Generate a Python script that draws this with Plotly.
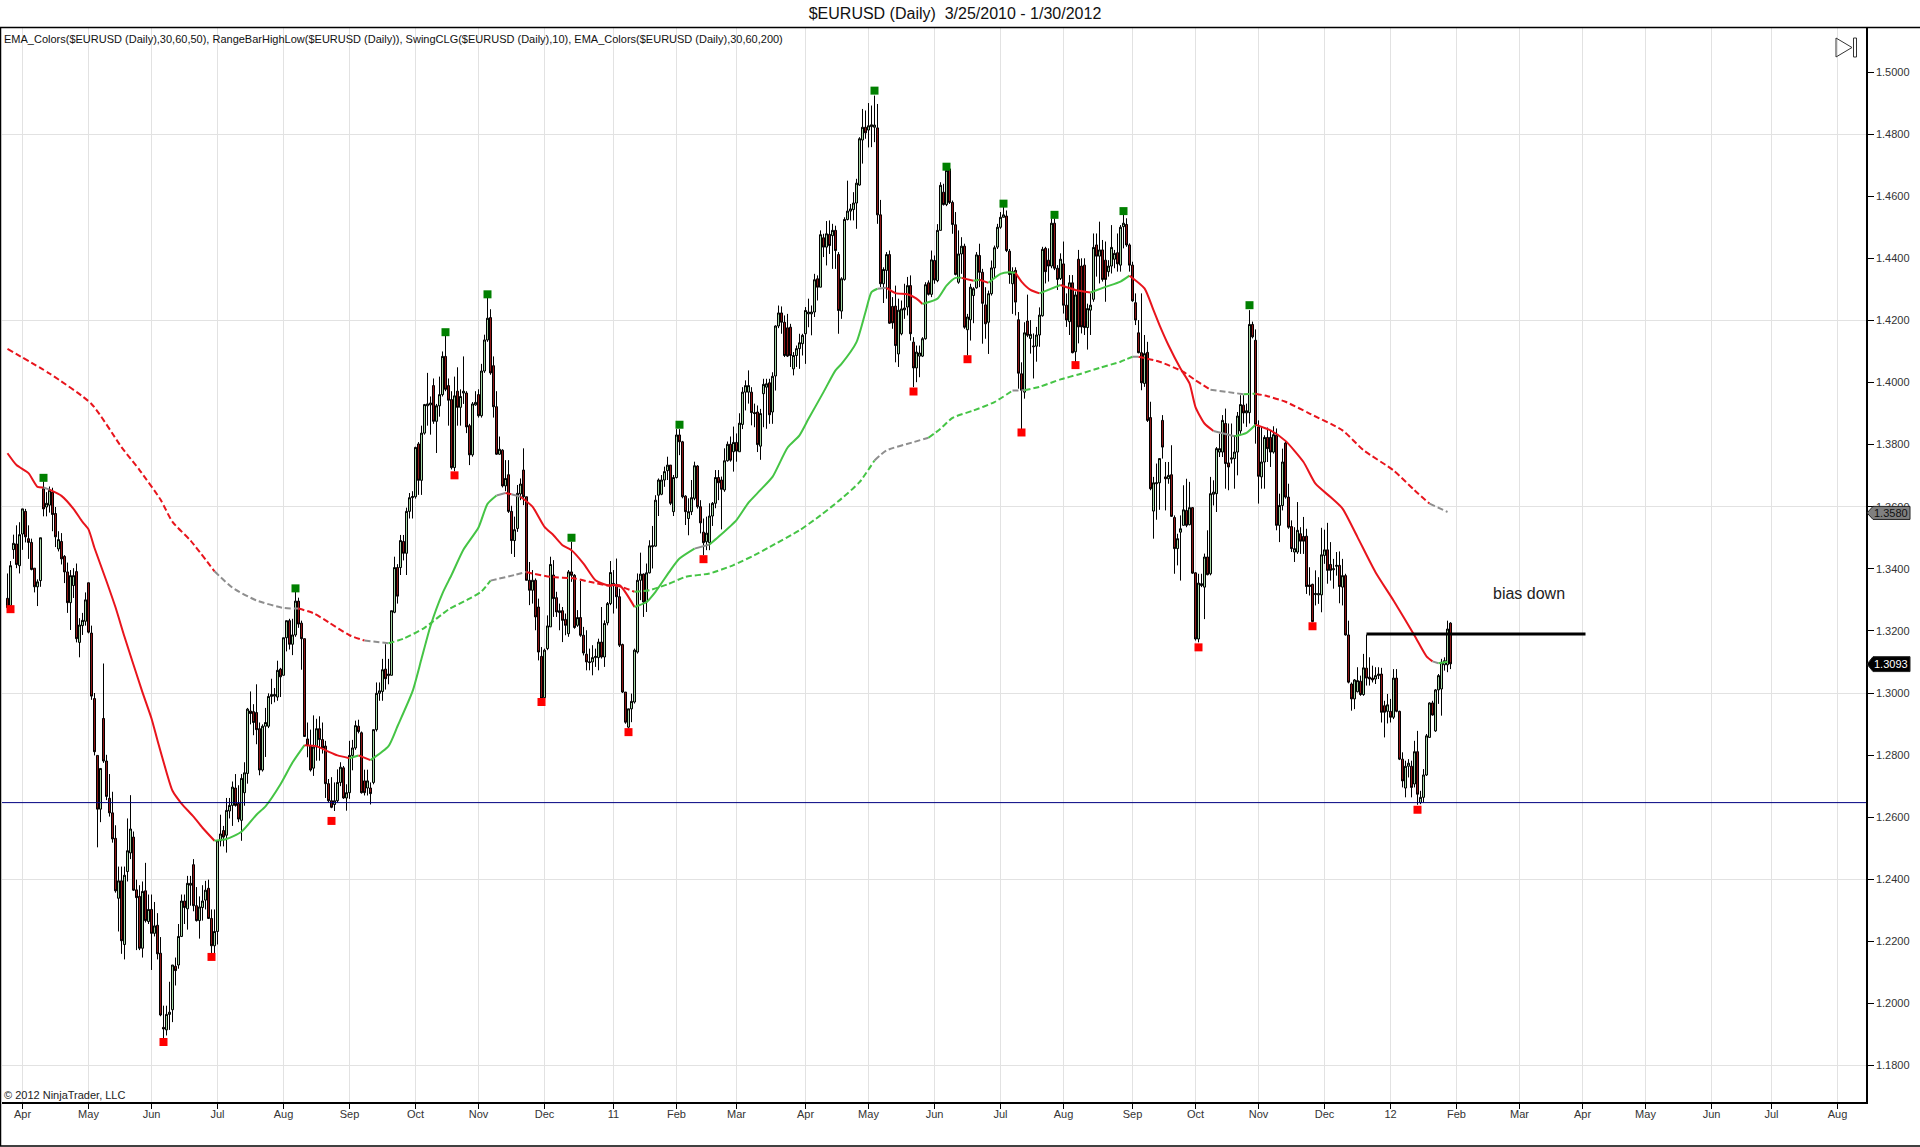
import plotly.graph_objects as go

# all prices in pips above 1.0000, so 3305 is 1.3305
opens = [
    3305,3282,3462,3480,3410,3512,3585,3497,3485,3402,
    3342,3362,3658,3599,3605,3647,3578,3464,3488,3440,
    3390,3291,3346,3391,3163,3217,3231,3355,3193,2982,
    2799,2626,2918,2781,2661,2614,2532,2339,2395,2190,
    2425,2485,2536,2366,2345,2178,2363,2264,2303,2226,
    2252,2162,1923,1915,1965,1980,2120,2124,2216,2330,
    2305,2381,2447,2315,2267,2309,2333,2371,2274,2186,
    2232,2524,2557,2542,2620,2638,2694,2644,2590,2679,
    2741,2942,2940,2937,2885,2752,2893,2893,2989,2990,
    2987,3077,3057,3178,3233,3157,3187,3296,3225,3175,
    2852,2829,2758,2826,2885,2850,2829,2708,2653,2641,
    2653,2712,2759,2662,2679,2799,2823,2893,2872,2717,
    2694,2694,2712,2882,2999,3005,3077,3056,3057,3260,
    3404,3404,3488,3450,3585,3629,3632,3802,3685,3837,
    3925,3928,3990,3875,3925,3961,4084,3990,3945,3726,
    3972,3920,3966,3966,3861,3767,3928,3961,3893,4037,
    4137,4209,4054,3922,3769,3782,3667,3703,3585,3491,
    3530,3641,3718,3632,3363,3331,3363,3277,3118,2985,
    3143,3213,3380,3307,3259,3265,3237,3191,3390,3379,
    3218,3243,3186,3125,3098,3100,3114,3114,3164,3116,
    3226,3288,3345,3350,3310,3156,3003,2890,2949,2971,
    3132,3363,3383,3293,3387,3471,3473,3637,3640,3686,
    3716,3734,3584,3694,3831,3809,3634,3562,3584,3627,
    3731,3600,3518,3487,3484,3570,3611,3694,3686,3654,
    3748,3801,3777,3807,3777,3865,3969,3969,3969,3903,
    3905,3795,3964,3985,3999,3905,4021,4182,4224,4194,
    4176,4178,4044,4087,4109,4125,4157,4221,4221,4227,
    4334,4307,4466,4436,4477,4473,4490,4412,4230,4332,
    4525,4552,4557,4578,4636,4781,4822,4813,4824,4822,
    4820,4540,4318,4361,4412,4245,4246,4092,4157,4234,
    4243,4312,4130,4047,4085,4085,4141,4321,4284,4393,
    4328,4490,4613,4573,4688,4580,4508,4323,4414,4439,
    4170,4202,4280,4305,4409,4355,4250,4194,4286,4369,
    4436,4500,4532,4536,4423,4318,4361,4202,4028,3969,
    4198,4142,4115,4117,4153,4215,4432,4394,4375,4513,
    4368,4335,4382,4249,4196,4321,4099,4397,4375,4378,
    4177,4233,4268,4443,4407,4427,4394,4357,4375,4397,
    4418,4378,4502,4509,4443,4378,4257,4160,4096,3997,
    4097,3887,3586,3674,3677,3878,3696,3690,3703,3565,
    3465,3518,3540,3588,3542,3597,3387,3174,3346,3341,
    3438,3384,3640,3642,3776,3776,3868,3741,3753,3755,
    3776,3844,3927,3902,3903,4187,4136,3857,3696,3744,
    3823,3823,3776,3830,3540,3604,3805,3631,3536,3454,
    3454,3513,3504,3505,3348,3350,3317,3316,3316,3443,
    3461,3414,3397,3408,3411,3341,3378,3187,3029,2981,
    3004,3038,2995,3080,3051,3048,3045,3056,3061,2959,
    2941,2941,2922,3048,2941,2787,2694,2764,2764,2707,
    2811,2647,2664,2736,2857,2968,2878,3010,3013,3091,3091,3225,
]
highs = [
    3385,3425,3510,3540,3550,3593,3593,3540,3497,3402,
    3366,3500,3682,3647,3665,3661,3599,3521,3515,3444,
    3420,3396,3402,3417,3241,3258,3324,3355,3217,3000,
    2799,2757,3095,2801,2739,2682,2574,2441,2441,2441,
    2596,2671,2554,2399,2381,2393,2453,2351,2351,2327,
    2291,2214,1993,1993,2070,2124,2148,2256,2351,2351,
    2411,2411,2465,2375,2345,2381,2395,2399,2303,2303,
    2524,2608,2572,2662,2662,2715,2739,2703,2739,2777,
    2952,3005,2964,3028,2905,2899,2952,2999,3046,3016,
    3104,3081,3178,3233,3239,3239,3327,3307,3233,3175,
    2905,2882,2928,2917,2925,2905,2846,2723,2729,2712,
    2754,2777,2765,2706,2846,2849,2911,2914,2876,2753,
    2753,2712,2882,3034,3034,3110,3157,3110,3265,3439,
    3415,3509,3509,3597,3644,3650,3793,3808,3861,3931,
    4031,3955,4013,3931,4019,4100,4154,4013,3972,4019,
    4049,3978,4084,3972,3867,3937,3972,3978,4060,4154,
    4277,4236,4084,3972,3826,3785,3750,3750,3603,3568,
    3670,3691,3788,3632,3422,3396,3369,3304,3148,3143,
    3250,3439,3428,3326,3288,3277,3256,3396,3487,3383,
    3267,3361,3213,3202,3143,3154,3143,3175,3277,3234,
    3293,3425,3396,3433,3336,3159,3003,2949,2998,3143,
    3385,3452,3385,3417,3492,3538,3637,3691,3702,3729,
    3761,3734,3702,3850,3850,3812,3637,3627,3686,3745,
    3734,3621,3562,3568,3611,3615,3718,3718,3697,3788,
    3810,3826,3858,3836,3901,3985,4007,4039,3985,3932,
    3926,3915,4012,4012,4012,4033,4184,4248,4245,4216,
    4221,4189,4098,4119,4157,4157,4243,4270,4248,4350,
    4345,4490,4479,4520,4522,4511,4505,4420,4339,4532,
    4650,4575,4613,4656,4790,4881,4876,4900,4892,4924,
    4897,4588,4371,4420,4425,4275,4312,4270,4264,4318,
    4340,4345,4146,4119,4119,4146,4323,4329,4425,4409,
    4510,4645,4640,4688,4688,4586,4549,4490,4468,4447,
    4221,4318,4307,4420,4447,4366,4307,4296,4393,4441,
    4511,4549,4570,4554,4430,4371,4371,4227,4065,4194,
    4283,4201,4158,4179,4242,4437,4437,4432,4529,4529,
    4378,4416,4454,4287,4346,4346,4293,4427,4400,4400,
    4254,4287,4480,4480,4518,4459,4454,4394,4507,4427,
    4480,4507,4552,4529,4448,4389,4287,4201,4287,4153,
    4131,3938,3696,3739,3755,3895,3744,3744,3798,3572,
    3513,3572,3669,3690,3680,3599,3389,3384,3384,3449,
    3524,3696,3685,3792,3835,3895,3916,3868,3868,3830,
    3905,3959,3959,3932,4233,4196,4171,3878,3857,3830,
    3855,3846,3859,3852,3642,3787,3814,3674,3556,3534,
    3615,3534,3567,3529,3405,3352,3395,3373,3532,3526,
    3548,3486,3432,3454,3456,3432,3384,3233,3034,3045,
    3083,3056,3126,3188,3115,3088,3083,3083,3081,2975,
    2997,2981,3077,3077,2943,2809,2782,2787,2782,2846,
    2878,2685,2755,2868,2970,2975,3013,3061,3110,3115,3233,3228,
]
lows = [
    3270,3275,3432,3402,3385,3461,3485,3432,3395,3324,
    3280,3342,3569,3569,3581,3521,3470,3456,3414,3354,
    3258,3203,3306,3163,3115,3187,3217,3192,2978,2799,
    2503,2584,2775,2655,2602,2518,2357,2232,2160,2142,
    2393,2465,2363,2172,2172,2148,2261,2256,2108,2216,
    2142,1959,1885,1897,1915,1940,2058,2112,2214,2256,
    2238,2315,2297,2264,2209,2267,2303,2272,2160,2160,
    2190,2506,2506,2486,2596,2572,2634,2584,2524,2637,
    2708,2899,2864,2835,2735,2747,2794,2887,2964,2970,
    2975,2987,3057,3134,3140,3122,3181,3210,3075,2860,
    2793,2747,2733,2782,2782,2805,2662,2647,2629,2620,
    2647,2700,2659,2621,2659,2751,2817,2870,2676,2670,
    2670,2641,2706,2876,2975,2975,3011,3028,3057,3257,
    3288,3380,3427,3380,3562,3562,3626,3638,3638,3832,
    3861,3832,3867,3773,3890,3955,3972,3861,3720,3714,
    3861,3861,3931,3837,3734,3761,3925,3887,3887,4031,
    4131,4025,3887,3767,3767,3662,3650,3580,3448,3438,
    3519,3621,3605,3363,3283,3288,3202,3105,2980,2982,
    3138,3213,3245,3245,3202,3164,3186,3181,3358,3207,
    3213,3181,3121,3073,3073,3057,3084,3073,3111,3084,
    3218,3283,3256,3272,3148,3000,2901,2885,2906,2966,
    3127,3299,3245,3261,3385,3401,3471,3570,3637,3664,
    3686,3605,3570,3691,3766,3627,3541,3508,3573,3621,
    3594,3514,3444,3460,3460,3538,3595,3621,3527,3648,
    3745,3745,3713,3745,3777,3850,3910,3932,3862,3856,
    3776,3751,3856,3851,3867,3867,3974,4175,4157,4082,
    4082,4050,4023,4050,4044,4087,4060,4178,4152,4211,
    4264,4307,4404,4377,4414,4366,4366,4157,4205,4328,
    4522,4522,4522,4495,4634,4705,4785,4757,4758,4774,
    4511,4307,4256,4270,4189,4173,4065,4050,4152,4205,
    4216,4135,3985,4001,4017,4082,4138,4280,4275,4318,
    4323,4490,4570,4568,4575,4479,4345,4318,4350,4173,
    4087,4135,4191,4302,4307,4125,4141,4092,4280,4339,
    4430,4495,4532,4420,4318,4221,4216,3980,3850,3948,
    4146,4093,4013,4067,4115,4212,4319,4325,4368,4362,
    4298,4330,4222,4179,4153,4094,4066,4126,4158,4153,
    4106,4153,4260,4341,4319,4325,4260,4341,4351,4368,
    4357,4357,4432,4437,4357,4260,4185,4094,3975,3986,
    3873,3653,3497,3558,3590,3755,3588,3674,3567,3384,
    3411,3362,3540,3534,3540,3384,3169,3163,3341,3238,
    3379,3379,3604,3583,3760,3760,3658,3653,3739,3658,
    3701,3835,3868,3857,3868,4142,3803,3610,3658,3658,
    3744,3728,3771,3524,3486,3588,3626,3529,3454,3422,
    3448,3448,3448,3319,3314,3228,3282,3287,3260,3416,
    3352,3362,3336,3378,3289,3282,3185,3031,2943,2948,
    3002,2991,2991,3024,3024,3034,3029,3045,2905,2857,
    2902,2905,2916,2938,2784,2696,2664,2728,2664,2696,
    2640,2642,2647,2733,2857,2927,2875,2965,2927,3072,3067,3077,
]
closes = [
    3275,3410,3482,3414,3510,3593,3503,3485,3398,3342,
    3358,3500,3593,3611,3653,3575,3503,3494,3432,3390,
    3291,3378,3378,3175,3219,3234,3300,3196,2990,2811,
    2626,2757,2781,2667,2614,2530,2363,2395,2202,2413,
    2492,2562,2365,2341,2178,2361,2267,2303,2226,2250,
    2160,1963,1918,1965,1972,2124,2106,2216,2330,2309,
    2387,2387,2315,2267,2311,2330,2365,2274,2186,2232,
    2524,2546,2536,2622,2638,2697,2638,2594,2725,2743,
    2948,2934,2905,2882,2752,2893,2905,2989,2995,2995,
    3073,3052,3178,3233,3157,3187,3296,3222,3175,2860,
    2831,2752,2826,2885,2850,2823,2708,2653,2632,2653,
    2712,2761,2662,2679,2799,2823,2895,2876,2679,2679,
    2717,2676,2882,2999,3007,3075,3046,3061,3265,3404,
    3312,3491,3450,3585,3629,3633,3791,3685,3837,3929,
    3931,3934,3875,3925,3961,4084,3978,3943,3726,3957,
    3920,3955,3972,3857,3767,3931,3936,3893,4037,4137,
    4207,4031,3922,3769,3785,3667,3691,3585,3491,3526,
    3643,3673,3632,3363,3331,3363,3245,3132,2982,3138,
    3216,3414,3304,3261,3265,3234,3218,3390,3379,3211,
    3243,3186,3129,3100,3100,3114,3118,3164,3116,3224,
    3288,3388,3353,3310,3154,3003,2906,2949,2973,3138,
    3363,3383,3293,3387,3474,3474,3621,3686,3686,3713,
    3734,3611,3694,3831,3809,3632,3584,3584,3629,3732,
    3600,3548,3484,3515,3570,3611,3694,3677,3656,3748,
    3801,3750,3807,3779,3869,3969,3990,3990,3903,3900,
    3800,3900,3994,3996,3896,4020,4182,4224,4194,4087,
    4085,4087,4087,4109,4128,4152,4232,4227,4227,4331,
    4307,4476,4436,4479,4441,4490,4425,4232,4334,4525,
    4552,4559,4578,4642,4785,4822,4804,4827,4830,4829,
    4540,4318,4364,4412,4191,4192,4119,4233,4237,4240,
    4312,4157,4047,4098,4095,4141,4315,4284,4395,4330,
    4490,4635,4573,4683,4580,4509,4348,4414,4439,4178,
    4211,4307,4302,4411,4355,4255,4189,4286,4369,4434,
    4500,4532,4540,4425,4348,4357,4259,4030,3975,4160,
    4152,4155,4117,4153,4217,4429,4357,4375,4513,4368,
    4332,4397,4249,4201,4321,4096,4282,4179,4179,4177,
    4238,4249,4435,4407,4427,4332,4332,4375,4435,4416,
    4382,4500,4513,4443,4378,4263,4201,4096,3999,4093,
    3878,3658,3677,3677,3755,3792,3690,3701,3569,3465,
    3497,3529,3590,3540,3597,3386,3174,3354,3352,3438,
    3381,3642,3647,3787,3787,3878,3739,3728,3757,3776,
    3892,3929,3902,3909,4187,4147,3865,3698,3744,3823,
    3787,3776,3832,3540,3604,3744,3631,3534,3465,3465,
    3524,3489,3489,3343,3343,3230,3320,3320,3445,3461,
    3395,3395,3400,3411,3343,3378,3187,3035,2981,3042,
    3040,2995,3081,3048,3045,3042,3056,3061,2938,2938,
    2962,2922,3048,2941,2787,2717,2764,2774,2696,2811,
    2674,2664,2736,2862,2968,2929,3010,3056,3099,3104,3206,3094,
]

ema50_bars = [1,4,8,11,13,15,19,23,26,28,30,34,37,40,43,46,49,51,54,56,59,63,66,70,74,79,84,87,92,96,
              100,104,108,111,115,118,122,128,131,136,139,142,146,149,153,158,161,164,167,169,172,176,180,183,186,189,193,197,201,205,
              210,214,217,222,225,230,235,238,244,248,252,256,261,265,268,273,277,279,284,287,289,291,294,297,301,304,306,311,314,317,
              319,323,325,328,332,335,337,339,342,345,352,357,362,367,372,375,380,383,385,388,392,395,397,400,403,410,414,417,422,427,
              433,437,442,446,451,457,463,470,474,476,478,481]
ema50_vals = [3772,3734,3708,3664,3662,3655,3635,3593,3551,3527,3467,3360,3276,3181,3091,3002,2918,2847,2745,2685,2644,2602,2566,2524,2530,2553,2608,2635,2706,2776,
              2832,2829,2811,2799,2790,2799,2784,2829,2893,3005,3110,3216,3321,3380,3462,3533,3609,3636,3644,3640,3632,3600,3535,3508,3476,3460,3417,3363,3347,3347,
              3277,3293,3326,3396,3433,3465,3478,3503,3557,3613,3654,3696,3790,3830,3883,3969,4039,4060,4130,4227,4291,4302,4305,4288,4284,4270,4253,4270,4312,4337,
              4337,4328,4331,4321,4350,4355,4353,4325,4298,4287,4314,4298,4290,4308,4325,4344,4303,4233,4185,4120,4045,3997,3921,3868,3844,3827,3838,3864,3846,3812,
              3744,3674,3631,3594,3502,3389,3298,3185,3118,3102,3096,3101]
# bar where each colour stretch starts, and its colour
ema50_run_bars = [1,13,15,70,100,115,118,122,164,167,169,172,210,230,235,291,294,306,319,323,325,328,337,345,352,362,375,403,410,417,476,478]
ema50_run_cols = ["r","k","r","g","r","g","r","g","k","r","k","r","g","k","g","k","r","g","r","g","r","g","r","g","r","g","r","k","g","r","k","g"]

ema200_bars = [1,15,29,39,45,52,56,62,70,76,84,93,98,103,108,115,120,128,133,140,148,155,159,162,170,174,176,182,190,195,
               202,205,210,215,221,227,235,243,250,255,265,272,279,285,290,294,303,308,312,316,323,330,336,340,345,352,358,365,372,376,
               378,385,393,397,402,408,413,417,421,427,435,446,453,463,470,475,481]
ema200_vals = [4108,4029,3931,3792,3718,3623,3551,3491,3392,3339,3298,3274,3272,3257,3228,3186,3169,3160,3175,3210,3269,3304,3327,3362,3380,3390,3385,3374,3369,3358,
               3345,3344,3326,3331,3350,3374,3385,3412,3444,3470,3524,3572,3626,3679,3749,3781,3808,3822,3851,3886,3910,3937,3974,3975,3986,4010,4026,4047,4067,4083,
               4083,4067,4034,4007,3977,3969,3962,3964,3956,3938,3900,3846,3782,3717,3653,3610,3583]
ema200_run_bars = [1,70,98,120,128,162,174,210,290,308,336,340,376,378,402,413,417,475]
ema200_run_cols = ["r","k","r","k","g","k","r","g","k","g","k","g","k","r","k","g","r","k"]

swing_high_bars = [13,97,147,161,189,225,290,314,333,350,373,415]
swing_high_vals = [3693,3337,4162,4284,3500,3864,4940,4695,4576,4540,4552,4249]
swing_low_bars = [2,53,69,109,150,179,208,233,303,321,339,357,398,436,471]
swing_low_vals = [3270,1876,2150,2588,3701,2971,2874,3431,3971,4075,3839,4056,3147,3215,2624]

bias_bars = [454,527]
bias_vals = [3190,3190]
support_level = 2647

month_bars = [6,28,49,71,93,115,137,158,180,203,224,244,267,288,310,332,353,376,397,418,440,462,484,505,526,547,569,589,611]
month_labels = ["Apr","May","Jun","Jul","Aug","Sep","Oct","Nov","Dec","11","Feb","Mar","Apr","May","Jun","Jul","Aug","Sep","Oct","Nov","Dec","12","Feb","Mar","Apr","May","Jun","Jul","Aug"]
price_ticks = [1.18,1.20,1.22,1.24,1.26,1.28,1.30,1.32,1.34,1.36,1.38,1.40,1.42,1.44,1.46,1.48,1.50]
price_grid = [1.18,1.24,1.30,1.36,1.42,1.48]

LINE_COLORS = {"r": "#e8141c", "g": "#45c445", "k": "#8e8e8e"}
FONT = "Liberation Sans"
W, H = 1920, 1147
L, R, T, B = 2, 1866, 28, 1102


def price(pips):
    return 1 + pips / 10000


def fx(px):
    return (px - L) / (R - L)


def fy(py):
    return (B - py) / (B - T)


def add_ema(fig, bars, vals, run_bars, run_cols, dash):
    # one trace per colour stretch, sharing the end point with the next one
    ends = run_bars[1:] + [bars[-1]]
    for start, end, col in zip(run_bars, ends, run_cols):
        xs = [b for b in bars if start <= b <= end]
        ys = [price(v) for b, v in zip(bars, vals) if start <= b <= end]
        fig.add_trace(go.Scatter(x=xs, y=ys, mode="lines", hoverinfo="skip",
                                 line=dict(color=LINE_COLORS[col], width=2, dash=dash, shape="spline", smoothing=0.6)))


fig = go.Figure()
fig.add_trace(go.Candlestick(x=list(range(1, len(opens) + 1)),
                             open=[price(v) for v in opens], high=[price(v) for v in highs],
                             low=[price(v) for v in lows], close=[price(v) for v in closes],
                             increasing=dict(line=dict(color="#000000", width=1), fillcolor="#a5d6a5"),
                             decreasing=dict(line=dict(color="#000000", width=1), fillcolor="#8e1616"),
                             whiskerwidth=0))
add_ema(fig, ema50_bars, ema50_vals, ema50_run_bars, ema50_run_cols, "solid")
add_ema(fig, ema200_bars, ema200_vals, ema200_run_bars, ema200_run_cols, "6px,3px")
fig.add_trace(go.Scatter(x=bias_bars, y=[price(v) for v in bias_vals], mode="lines", line=dict(color="#000000", width=3)))
fig.add_trace(go.Scatter(x=swing_high_bars, y=[price(v) for v in swing_high_vals], mode="markers",
                         marker=dict(symbol="square", size=8, color="#008000")))
fig.add_trace(go.Scatter(x=swing_low_bars, y=[price(v) for v in swing_low_vals], mode="markers",
                         marker=dict(symbol="square", size=8, color="#ff0000")))


def tag(py_price, fill, half):
    x0, x1, x2 = fx(1867), fx(1873), fx(1910)
    return dict(type="path", xref="paper", yref="y", fillcolor=fill, line=dict(color="#222222", width=1), layer="above",
                path=f"M {x0},{py_price} L {x1},{py_price + half} L {x2},{py_price + half} L {x2},{py_price - half} L {x1},{py_price - half} Z")


shapes = [
    dict(type="rect", xref="paper", yref="paper", x0=0, x1=1, y0=fy(46), y1=1, fillcolor="white", line_width=0, layer="between"),
    dict(type="line", xref="paper", yref="y", x0=0, x1=1, y0=price(support_level), y1=price(support_level),
         line=dict(color="#000080", width=1), layer="above"),
    dict(type="line", xref="paper", yref="paper", x0=fx(0), x1=fx(1920), y0=fy(27.5), y1=fy(27.5), line=dict(color="#000000", width=1.5)),
    dict(type="line", xref="paper", yref="paper", x0=fx(0.5), x1=fx(0.5), y0=fy(27.5), y1=fy(1146), line=dict(color="#000000", width=1.5)),
    dict(type="line", xref="paper", yref="paper", x0=fx(0), x1=fx(1920), y0=fy(1146), y1=fy(1146), line=dict(color="#000000", width=1.5)),
    # end-of-chart icon, top right
    dict(type="path", xref="paper", yref="paper", line=dict(color="#333333", width=1),
         path=f"M {fx(1836)},{fy(38)} L {fx(1852)},{fy(47.5)} L {fx(1836)},{fy(57)} Z"),
    dict(type="rect", xref="paper", yref="paper", x0=fx(1853.5), x1=fx(1856.5), y0=fy(57), y1=fy(38), line=dict(color="#333333", width=1)),
    tag(1.3580, "#808080", 0.0021),
    tag(1.3093, "#000000", 0.0024),
]

annotations = [
    dict(xref="paper", yref="paper", x=fx(2), y=fy(39), xanchor="left", yanchor="middle", showarrow=False,
         text="EMA_Colors($EURUSD (Daily),30,60,50), RangeBarHighLow($EURUSD (Daily)), SwingCLG($EURUSD (Daily),10), EMA_Colors($EURUSD (Daily),30,60,200)",
         font=dict(family=FONT, size=11, color="#111111")),
    dict(xref="paper", yref="paper", x=fx(2), y=fy(1095), xanchor="left", yanchor="middle", showarrow=False,
         text="© 2012 NinjaTrader, LLC", font=dict(family=FONT, size=11, color="#222222")),
    dict(xref="x", yref="y", x=508, y=1.3319, xanchor="center", showarrow=False, text="bias down",
         font=dict(family=FONT, size=16, color="#222222")),
    dict(xref="paper", yref="y", x=fx(1891), y=1.3580, xanchor="center", showarrow=False, text="1.3580",
         font=dict(family=FONT, size=11, color="#111111")),
    dict(xref="paper", yref="y", x=fx(1891), y=1.3093, xanchor="center", showarrow=False, text="1.3093",
         font=dict(family=FONT, size=11, color="#ffffff")),
]

fig.update_layout(
    width=W, height=H, margin=dict(l=L, r=W - R, t=T, b=H - B, autoexpand=False),
    paper_bgcolor="white", plot_bgcolor="white", showlegend=False, shapes=shapes, annotations=annotations,
    font=dict(family=FONT, color="#222222"), boxgap=0.05,
    title=dict(text="$EURUSD (Daily)  3/25/2010 - 1/30/2012", x=955 / W, xanchor="center", y=1 - 13 / H, yanchor="middle",
               font=dict(family=FONT, size=16, color="#111111")),
    xaxis=dict(type="linear", range=[-0.833, 620.5], rangeslider=dict(visible=False), tickmode="array",
               tickvals=month_bars, ticktext=month_labels, ticks="outside", ticklen=5, tickcolor="#000000",
               showgrid=True, gridcolor="#e2e2e2", gridwidth=1, zeroline=False, showline=True, linecolor="#000000", linewidth=1.5,
               ticklabelstandoff=-4, tickfont=dict(family=FONT, size=11, color="#333333")),
    yaxis=dict(side="right", range=[1.16828, 1.51417], tickmode="array", tickvals=price_ticks, tickformat=".4f",
               ticks="outside", ticklen=6, tickcolor="#000000", showgrid=False, zeroline=False, showline=True,
               linecolor="#000000", linewidth=1.5, tickfont=dict(family=FONT, size=11, color="#333333"),
               minor=dict(tickmode="array", tickvals=price_grid, showgrid=True, gridcolor="#e2e2e2", gridwidth=1, ticks="")),
)

fig.write_html("out.html", config={"displayModeBar": False},
               post_script="document.body.style.margin='0';document.body.style.overflow='hidden';")
